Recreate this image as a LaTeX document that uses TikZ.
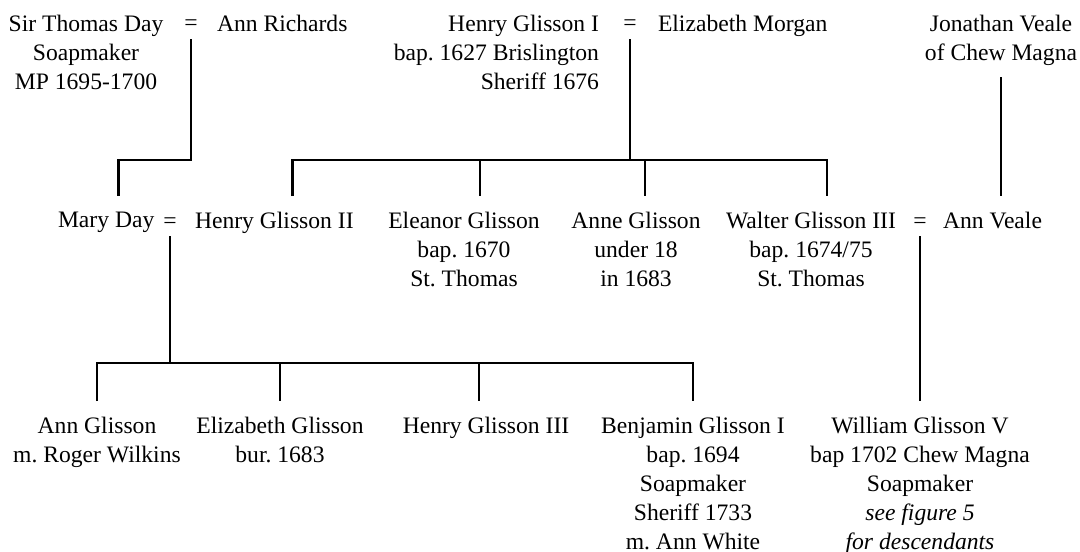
\documentclass[tikz,border=0pt]{standalone}
\usepackage{fontspec}
\setmainfont{Liberation Serif}
\frenchspacing
\usetikzlibrary{positioning}

\begin{document}
\begin{tikzpicture}[x=.5pt,y=-.5pt,
  every node/.style={font=\fontsize{11.8pt}{14.5pt}\selectfont, inner sep=0pt},
  person/.style={align=center, anchor=north, outer xsep=0pt, outer ysep=8pt},
  marr/.style={anchor=base, text depth=4pt},
  line/.style={line width=1.4pt}]
  \useasboundingbox (0,0) rectangle (1080,551);
  % first generation
  \node[person] (tday) at (86,-1) {Sir Thomas Day\\Soapmaker\\MP 1695-1700};
  \node[marr] (eq1) at (191,31) {=};
  \node[person,anchor=north west] (arich) at (217,-1) {Ann Richards};
  \node[person,align=right,anchor=north east] (hglis1) at (599,-1) {Henry Glisson I\\bap. 1627 Brislington\\Sheriff 1676};
  \node[marr] (eq2) at (630,31) {=};
  \node[person,anchor=north west] (emorg) at (658,-1) {Elizabeth Morgan};
  \node[person] (jveale) at (1001,-1) {Jonathan Veale\\of Chew Magna};
  % second generation
  \node[person,anchor=north west] (mday) at (58,196) {Mary Day};
  \node[marr] (eq3) at (170,228) {=};
  \node[person,anchor=north west] (hglis2) at (195,196) {Henry Glisson II};
  \node[person] (eglis) at (464,196) {Eleanor Glisson\\bap. 1670\\St. Thomas};
  \node[person] (aglis) at (636,196) {Anne Glisson\\under 18\\in 1683};
  \node[person] (wglis3) at (811,196) {Walter Glisson III\\bap. 1674/75\\St. Thomas};
  \node[marr] (eq4) at (920,228) {=};
  \node[person,anchor=north west] (aveale) at (943,196) {Ann Veale};
  % third generation
  \node[person] (anglis) at (97,401) {Ann Glisson\\m. Roger Wilkins};
  \node[person] (elglis) at (280,401) {Elizabeth Glisson\\bur. 1683};
  \node[person] (hglis3) at (486,401) {Henry Glisson III};
  \node[person] (bglis) at (693,401) {Benjamin Glisson I\\bap. 1694\\Soapmaker\\Sheriff 1733\\m. Ann White};
  \node[person] (wglis5) at (920,401) {William Glisson V\\bap 1702 Chew Magna\\Soapmaker\\\textit{see figure 5}\\\textit{for descendants}};
  % lines of descent
  \coordinate (bar1) at (0,160);
  \coordinate (bar2) at (0,363);
  \draw[line] (eq1.south) |- ([xshift=6pt]mday.north |- bar1) -- ([xshift=6pt]mday.north);
  \draw[line] (eq2.south) -- (eq2.south |- bar1);
  \draw[line] ([xshift=9pt]hglis2.north) -- ([xshift=9pt]hglis2.north |- bar1) -| ([xshift=8pt]wglis3.north);
  \foreach \n/\s in {eglis/8pt,aglis/4.5pt}
    \draw[line] ([xshift=\s]\n.north |- bar1) -- ([xshift=\s]\n.north);
  \draw[line] ([yshift=2pt]jveale.south) -- (jveale.south |- aveale.north);
  \draw[line] (eq3.south) -- (eq3.south |- bar2);
  \draw[line] (anglis.north) -- (anglis.north |- bar2) -| (bglis.north);
  \foreach \n/\s in {elglis/0pt,hglis3/-3.5pt}
    \draw[line] ([xshift=\s]\n.north |- bar2) -- ([xshift=\s]\n.north);
  \draw[line] (eq4.south) -- (wglis5.north);
\end{tikzpicture}
\end{document}
